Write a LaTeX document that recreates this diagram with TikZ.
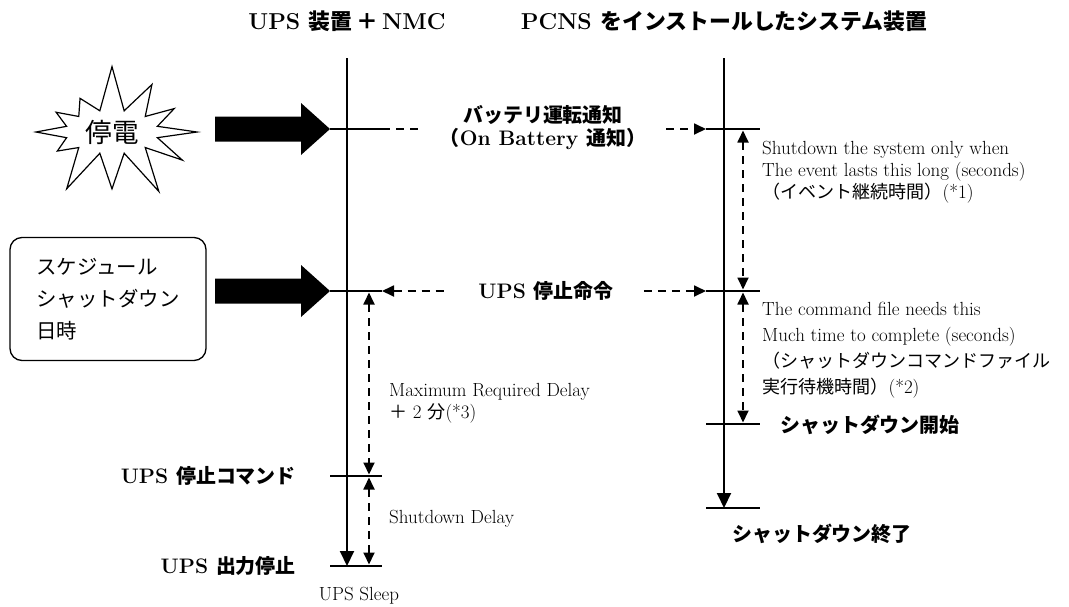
\documentclass[tikz,border=0pt]{standalone}
\usepackage{fontspec}
\newfontfamily\jpfont{Noto Sans CJK JP}[Scale=0.95]
\newcommand\jp[1]{{\jpfont #1}}
\usetikzlibrary{arrows.meta,shapes.symbols}

\begin{document}
\begin{tikzpicture}
  [
    x=1pt, y=-1pt,
    >={Triangle[length=12pt,width=11pt]},
    timeline/.style={
      line width=2pt,
      -{Triangle[length=15pt,width=14pt]}
    },
    tick/.style={
      line width=1.6pt
    },
    signal/.style={
      line width=1.8pt,
      dash pattern=on 8pt off 6pt
    },
    span/.style={
      signal,
      <->,
      shorten <=1.5pt,
      shorten >=1.5pt
    },
    head/.style={
      font=\fontsize{23}{27}\selectfont\bfseries
    },
    lbl/.style={
      font=\fontsize{21}{23}\selectfont\bfseries,
      inner sep=0pt
    },
    note/.style={
      font=\fontsize{19}{22}\selectfont,
      align=left,
      inner sep=0pt
    },
    bigarrow/.pic={
      \fill (-115,-12.5) -- (-29,-12.5) -- (-29,-26) -- (0,0)
        -- (-29,26) -- (-29,12.5) -- (-115,12.5) -- cycle;
    }
  ]
  \useasboundingbox (0,0) rectangle (1069,606);

  % time lines
  \node [head] (ups) at (347,21) {UPS \jp{装置}\,\jp{＋}\,NMC};
  \node [head] (pc) at (724,21) {PCNS \jp{をインストールしたシステム装置}};
  \coordinate (ups top) at (347,58);
  \coordinate (ups end) at (347,566);
  \coordinate (pc top) at (724,58);
  \coordinate (pc end) at (724,508);
  \draw [timeline] (ups top) -- (ups end);
  \draw [timeline] (pc top) -- (pc end);

  % ticks
  \foreach \y [count=\i] in {129,291,476,566} {
    \coordinate (ul\i) at (330,\y);
    \coordinate (ur\i) at (382,\y);
    \draw [tick] (ul\i) -- (ur\i);
  }
  \foreach \y [count=\i] in {129,291,424,508} {
    \coordinate (pl\i) at (706,\y);
    \coordinate (pr\i) at (760,\y);
    \draw [tick] (pl\i) -- (pr\i);
  }

  % events
  \node [starburst, draw, line width=1.2pt, starburst points=12,
    starburst point height=48pt, random starburst=7,
    minimum width=190pt, minimum height=122pt,
    font=\fontsize{28}{30}\selectfont] (outage) at (112,132) {\jp{停電}};
  \node [draw, line width=1.3pt, rounded corners=12pt,
    minimum width=196pt, minimum height=123pt, align=left,
    font=\fontsize{21.5}{32}\selectfont] (sched) at (108,299)
    {\jp{スケジュール}\\\jp{シャットダウン}\\\jp{日時}};
  \pic at (ul1) {bigarrow};
  \pic at (ul2) {bigarrow};

  % signals
  \node [lbl, align=center, inner xsep=20pt] (batt) at (543,128)
    {\jp{バッテリ運転通知}\\\jp{（}On Battery \jp{通知）}};
  \draw [signal] (ur1) -- (batt.west |- ur1);
  \draw [signal, ->] (batt.east |- ur1) -- (pl1);
  \node [lbl, inner xsep=30pt] (stop) at (546,291) {UPS \jp{停止命令}};
  \draw [signal, <-] (ur2) -- (stop.west |- ur2);
  \draw [signal, ->] (stop.east |- ur2) -- (pl2);

  % delays
  \draw [span] ([xshift=-17pt]pr1) -- ([xshift=-17pt]pr2);
  \draw [span] ([xshift=-17pt]pr2) -- ([xshift=-17pt]pr3);
  \draw [span] ([xshift=-13pt]ur2) -- ([xshift=-13pt]ur3);
  \draw [span] ([xshift=-13pt]ur3) -- ([xshift=-13pt]ur4);

  \node [note, anchor=west] (wait1) at (762,172)
    {Shutdown the system only when\\The event lasts this long (seconds)\\\jp{（イベント継続時間）}(*1)};
  \node [note, anchor=west, font=\fontsize{19}{26}\selectfont] (wait2) at (762,350)
    {The command file needs this\\Much time to complete (seconds)\\\jp{（シャットダウンコマンドファイル}\\\jp{実行待機時間）}(*2)};
  \node [note, anchor=west] (maxdelay) at (389,403)
    {Maximum Required Delay\\\jp{＋}\ 2 \jp{分}(*3)};
  \node [note, anchor=west] (sddelay) at (389,519) {Shutdown Delay};
  \node [note] (sleep) at (359,596) {UPS Sleep};

  % states
  \node [lbl, anchor=east] (stopcmd) at (296,476) {UPS \jp{停止コマンド}};
  \node [lbl, anchor=east] (outoff) at (296,566) {UPS \jp{出力停止}};
  \node [lbl, anchor=west] (sdstart) at (780,425) {\jp{シャットダウン開始}};
  \node [lbl] (sdend) at (822,534) {\jp{シャットダウン終了}};
\end{tikzpicture}
\end{document}
